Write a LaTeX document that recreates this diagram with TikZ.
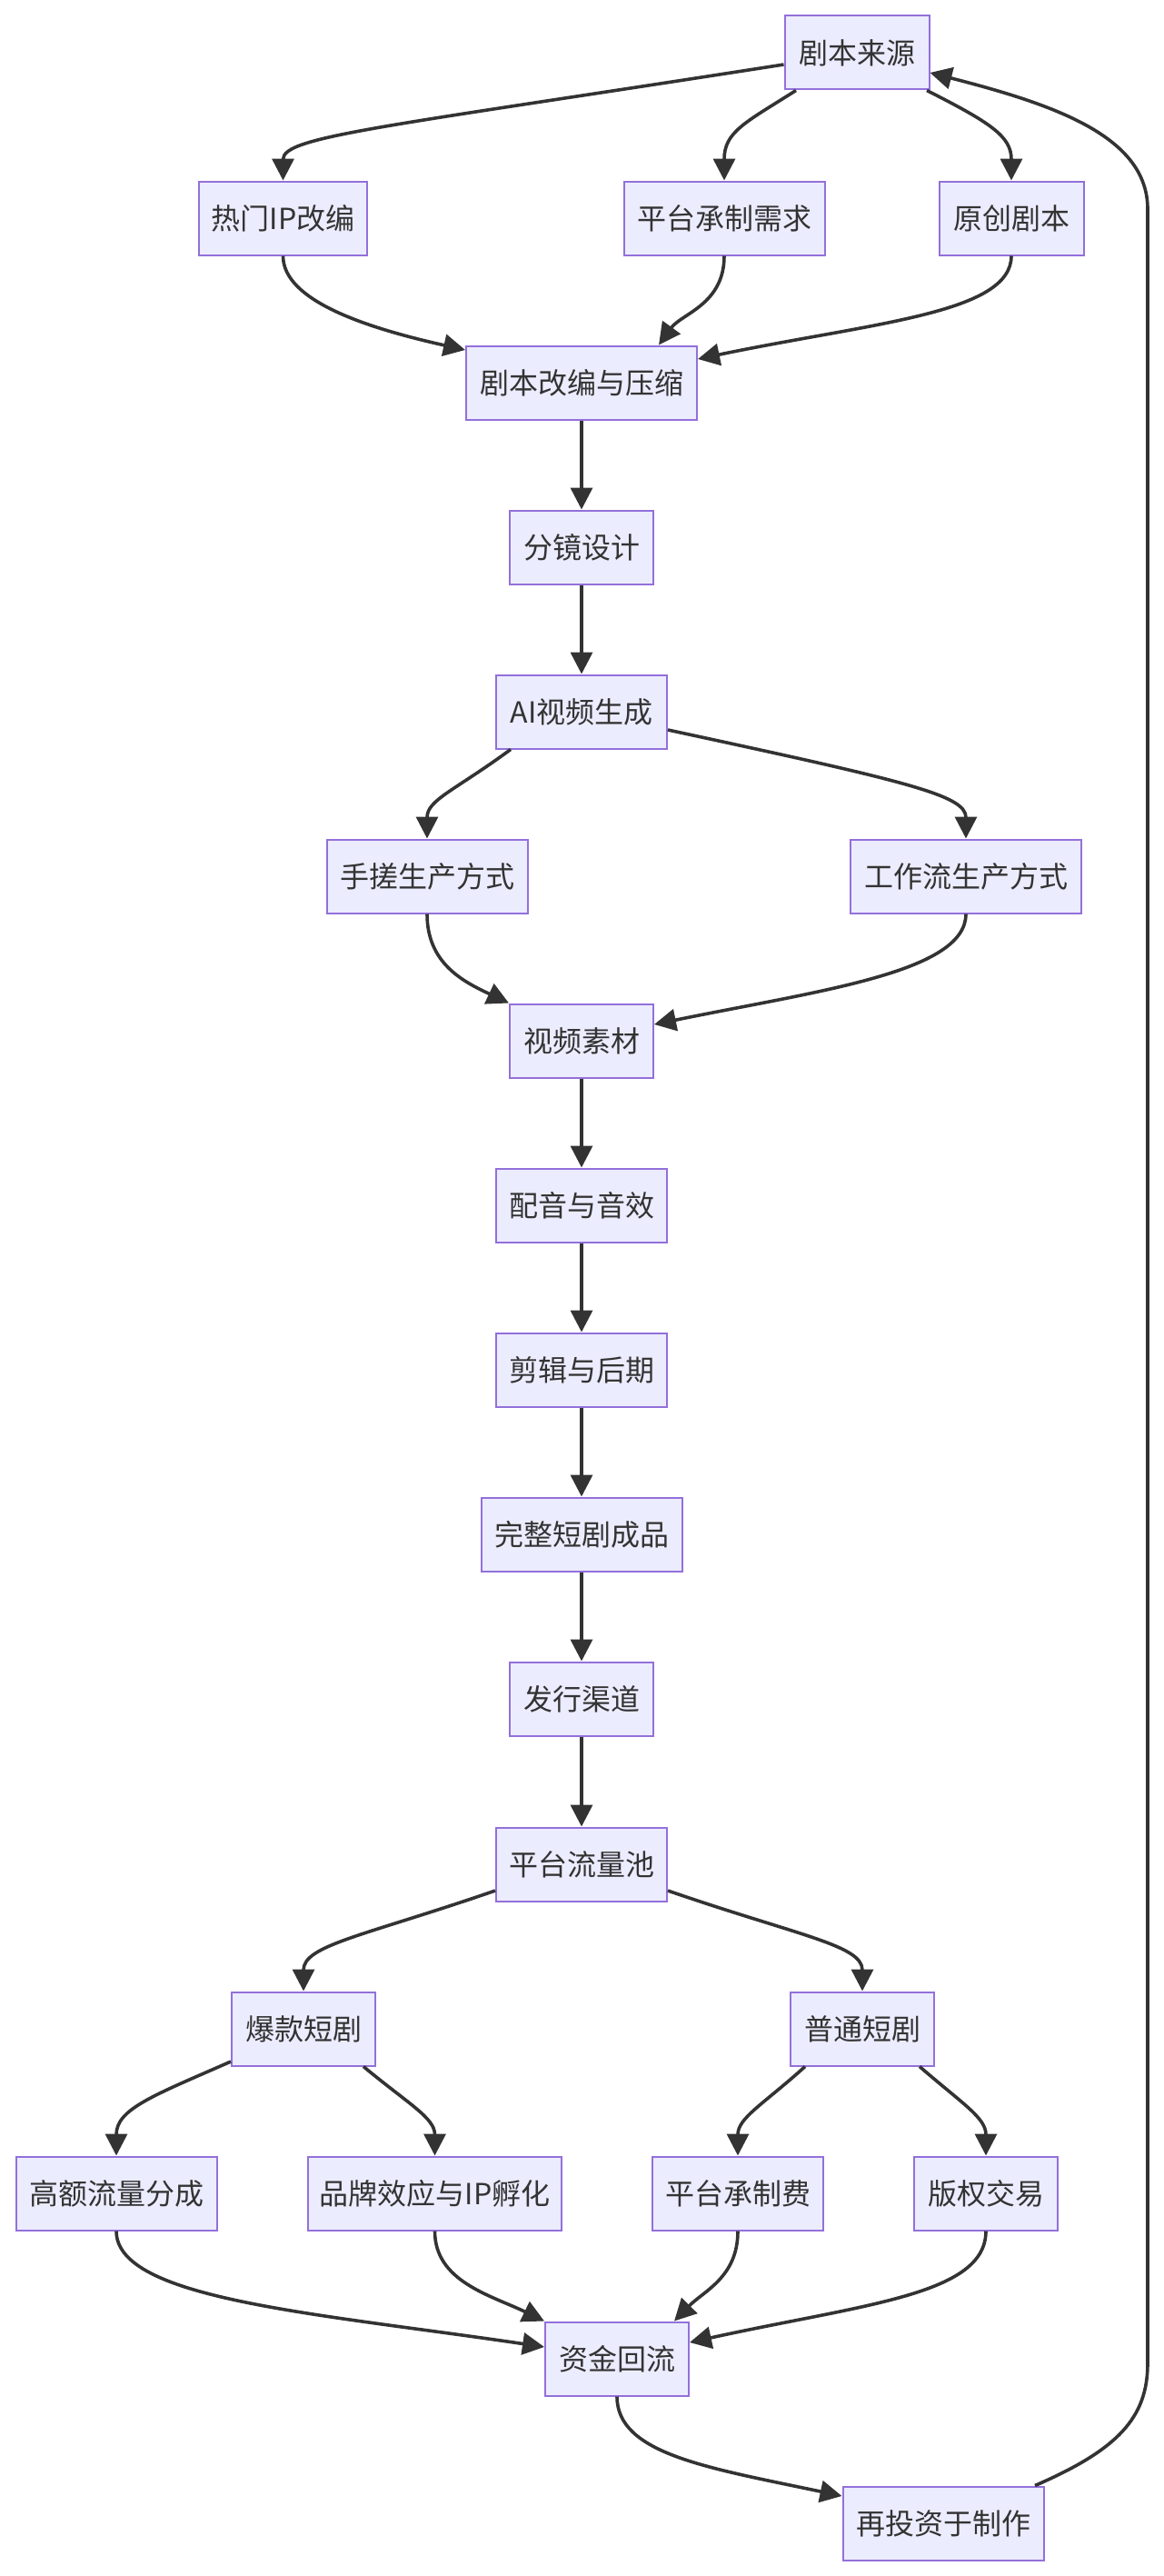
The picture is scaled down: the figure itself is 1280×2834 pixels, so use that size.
\documentclass[tikz,border=0pt]{standalone}
\usepackage{fontspec}
\setmainfont{Noto Sans CJK SC}
\usetikzlibrary{arrows.meta}
\definecolor{nodefill}{HTML}{ECECFF}
\definecolor{nodeborder}{HTML}{9370DB}
\definecolor{edgecol}{HTML}{333333}
\begin{document}
\begin{tikzpicture}[x=1pt,y=-1pt,
  box/.style={draw=nodeborder, fill=nodefill, line width=2pt, minimum height=81pt,
    inner sep=0pt, text=edgecol, font=\fontsize{32}{38}\selectfont},
  edge/.style={draw=edgecol, line width=3.6pt, -{Triangle[length=24pt,width=24pt]}}]
\useasboundingbox (0,0) rectangle (1280,2834);
\fill[white] (0,0) rectangle (1280,2834);

\node[box, minimum width=159pt] (src) at (943,58) {剧本来源};
\node[box, minimum width=185pt] (hot) at (311.5,240) {热门IP改编};
\node[box, minimum width=221pt] (plat) at (797,240) {平台承制需求};
\node[box, minimum width=159pt] (orig) at (1113,240) {原创剧本};
\node[box, minimum width=254pt] (adapt) at (640,421) {剧本改编与压缩};
\node[box, minimum width=158pt] (story) at (640,602) {分镜设计};
\node[box, minimum width=188pt] (ai) at (640,783) {AI视频生成};
\node[box, minimum width=221pt] (hand) at (470,964) {手搓生产方式};
\node[box, minimum width=254pt] (flow) at (1063,964) {工作流生产方式};
\node[box, minimum width=158pt] (mat) at (640,1145) {视频素材};
\node[box, minimum width=188pt] (dub) at (640,1326) {配音与音效};
\node[box, minimum width=188pt] (edit) at (640,1507) {剪辑与后期};
\node[box, minimum width=221pt] (full) at (640,1688) {完整短剧成品};
\node[box, minimum width=158pt] (dist) at (640,1869) {发行渠道};
\node[box, minimum width=188pt] (pool) at (640,2051) {平台流量池};
\node[box, minimum width=158pt] (hit) at (334,2232) {爆款短剧};
\node[box, minimum width=158pt] (norm) at (949,2232) {普通短剧};
\node[box, minimum width=221pt] (share) at (128,2413) {高额流量分成};
\node[box, minimum width=279pt] (brand) at (478.5,2413) {品牌效应与IP孵化};
\node[box, minimum width=188pt] (fee) at (812,2413) {平台承制费};
\node[box, minimum width=158pt] (copy) at (1085,2413) {版权交易};
\node[box, minimum width=158pt] (fund) at (679,2595) {资金回流};
\node[box, minimum width=221pt] (reinv) at (1038,2776) {再投资于制作};

% top fan-out
\draw[edge] ([yshift=-13pt]src.west) .. controls (420,140) and (311.5,150) .. (hot.north);
\draw[edge] ([xshift=-67pt]src.south) .. controls (820,135) and (797,145) .. (plat.north);
\draw[edge] ([xshift=77pt]src.south) .. controls (1090,135) and (1113,150) .. (orig.north);
% fan-in
\draw[edge] (hot.south) .. controls (311.5,330) and (400,360) .. ([yshift=36pt]adapt.west);
\draw[edge] (plat.south) .. controls (797,335) and (750,345) .. ([xshift=85pt]adapt.north);
\draw[edge] (orig.south) .. controls (1113,345) and (960,355) .. ([yshift=26pt]adapt.east);
% main column
\draw[edge] (adapt.south) -- (story.north);
\draw[edge] (story.south) -- (ai.north);
\draw[edge] ([xshift=-78pt]ai.south) .. controls (500,870) and (470,880) .. (hand.north);
\draw[edge] ([yshift=-20pt]ai.east) .. controls (1000,860) and (1063,875) .. (flow.north);
\draw[edge] (hand.south) .. controls (470,1060) and (510,1080) .. (mat.north west);
\draw[edge] (flow.south) .. controls (1063,1070) and (900,1090) .. ([yshift=18pt]mat.east);
\draw[edge] (mat.south) -- (dub.north);
\draw[edge] (dub.south) -- (edit.north);
\draw[edge] (edit.south) -- (full.north);
\draw[edge] (full.south) -- (dist.north);
\draw[edge] (dist.south) -- (pool.north);
% bottom tree
\draw[edge] ([yshift=-29pt]pool.west) .. controls (400,2130) and (334,2140) .. (hit.north);
\draw[edge] ([yshift=-29pt]pool.east) .. controls (880,2130) and (949,2140) .. (norm.north);
\draw[edge] ([yshift=-36pt]hit.west) .. controls (170,2305) and (128,2320) .. (share.north);
\draw[edge] ([xshift=66pt]hit.south) .. controls (450,2315) and (478.5,2330) .. (brand.north);
\draw[edge] ([xshift=-63pt]norm.south) .. controls (840,2315) and (812,2330) .. (fee.north);
\draw[edge] ([xshift=63pt]norm.south) .. controls (1060,2315) and (1085,2330) .. (copy.north);
% into fund
\draw[edge] (share.south) .. controls (128,2530) and (350,2545) .. ([yshift=13pt]fund.west);
\draw[edge] (brand.south) .. controls (478.5,2510) and (540,2525) .. (fund.north west);
\draw[edge] (fee.south) .. controls (812,2505) and (775,2520) .. ([xshift=63pt]fund.north);
\draw[edge] (copy.south) .. controls (1085,2525) and (950,2535) .. ([yshift=18pt]fund.east);
\draw[edge] (fund.south) .. controls (679,2700) and (780,2715) .. ([yshift=30pt]reinv.west);
% loop back
\draw[edge] ([xshift=101pt]reinv.north) .. controls (1230,2695) and (1263,2660) .. (1263,2600)
  -- (1263,230) .. controls (1263,150) and (1160,115) .. ([yshift=-22pt]src.east);
\end{tikzpicture}
\end{document}
